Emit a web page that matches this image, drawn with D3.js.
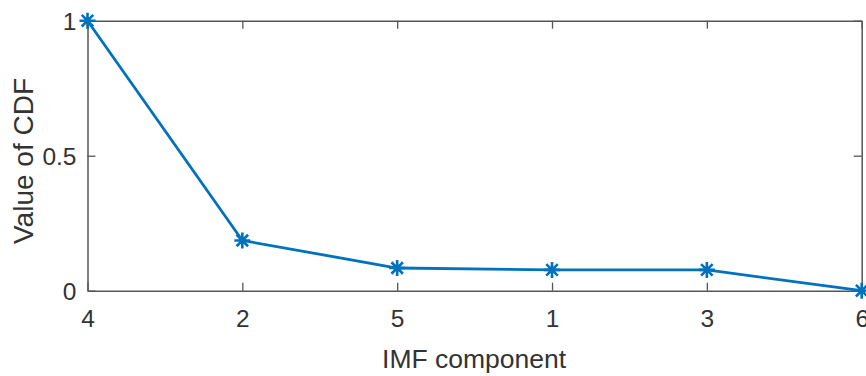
<!DOCTYPE html>
<html>
<head>
<meta charset="utf-8">
<script src="https://cdn.jsdelivr.net/npm/d3@7"></script>
<style>
  html, body { margin: 0; padding: 0; background: #fff; }
  svg { display: block; }
  .axis text { font-family: "Liberation Sans", Arial, sans-serif; fill: #333; }
</style>
</head>
<body>
<svg id="chart" width="866" height="376"></svg>
<script>
// IMF components ordered along the x axis, and their CDF values
const components = ["4", "2", "5", "1", "3", "6"];
const cdfValues = [1.0, 0.186, 0.084, 0.077, 0.077, 0.0];
const yTickValues = [0, 0.5, 1];
const yTickLabels = ["0", "0.5", "1"];

const W = 866, H = 376;
const plot = { left: 87.5, right: 861.7, top: 20.7, bottom: 290.7 };
const lineColor = "#0072BD";
const axisColor = "#555";
const tickFont = 24.5;

const svg = d3.select("#chart");

const x = d3.scalePoint().domain(components).range([plot.left, plot.right]).padding(0);
const y = d3.scaleLinear().domain([0, 1]).range([plot.bottom, plot.top]);

const data = components.map((c, i) => ({ c, v: cdfValues[i] }));

function styleAxis(g) {
  g.select(".domain").attr("stroke", axisColor).attr("stroke-width", 1.5);
  g.selectAll(".tick line").attr("stroke", axisColor).attr("stroke-width", 1.3);
}

// Bottom axis with inward ticks
svg.append("g").attr("class", "axis")
  .attr("transform", `translate(0,${plot.bottom})`)
  .call(d3.axisBottom(x).tickSizeInner(-8).tickSizeOuter(0).tickPadding(19))
  .call(styleAxis)
  .call(g => g.selectAll("text").attr("font-size", tickFont));

// Top axis (box edge, ticks only)
svg.append("g").attr("class", "axis")
  .attr("transform", `translate(0,${plot.top})`)
  .call(d3.axisTop(x).tickSizeInner(-8).tickSizeOuter(0).tickFormat(""))
  .call(styleAxis);

// Left axis
svg.append("g").attr("class", "axis")
  .attr("transform", `translate(${plot.left},0)`)
  .call(d3.axisLeft(y).tickValues(yTickValues)
    .tickFormat((d, i) => yTickLabels[i])
    .tickSizeInner(-8).tickSizeOuter(0).tickPadding(11))
  .call(styleAxis)
  .call(g => g.selectAll("text").attr("font-size", tickFont).attr("dy", "0.36em"));

// Right axis (box edge, ticks only)
svg.append("g").attr("class", "axis")
  .attr("transform", `translate(${plot.right},0)`)
  .call(d3.axisRight(y).tickValues(yTickValues)
    .tickSizeInner(-8).tickSizeOuter(0).tickFormat(""))
  .call(styleAxis);

// Axis titles
svg.append("text")
  .attr("x", (plot.left + plot.right) / 2 - 0.5)
  .attr("y", 368)
  .attr("text-anchor", "middle")
  .attr("font-family", "Liberation Sans, Arial, sans-serif")
  .attr("font-size", 26.5)
  .attr("fill", "#333")
  .text("IMF component");

svg.append("text")
  .attr("transform", `translate(33,161) rotate(-90)`)
  .attr("text-anchor", "middle")
  .attr("font-family", "Liberation Sans, Arial, sans-serif")
  .attr("font-size", 28)
  .attr("fill", "#333")
  .text("Value of CDF");

// Data line
const line = d3.line().x(d => x(d.c)).y(d => y(d.v));
svg.append("path")
  .datum(data)
  .attr("fill", "none")
  .attr("stroke", lineColor)
  .attr("stroke-width", 2.8)
  .attr("stroke-linejoin", "round")
  .attr("d", line);

// Asterisk markers
const r = 8;
const asterisk = `M${-r},0L${r},0M0,${-r}L0,${r}` +
  `M${-r * 0.72},${-r * 0.72}L${r * 0.72},${r * 0.72}` +
  `M${-r * 0.72},${r * 0.72}L${r * 0.72},${-r * 0.72}`;
svg.append("g").selectAll("path")
  .data(data)
  .join("path")
  .attr("transform", d => `translate(${x(d.c)},${y(d.v)})`)
  .attr("d", asterisk)
  .attr("stroke", lineColor)
  .attr("stroke-width", 2.6)
  .attr("fill", "none");
</script>
</body>
</html>
